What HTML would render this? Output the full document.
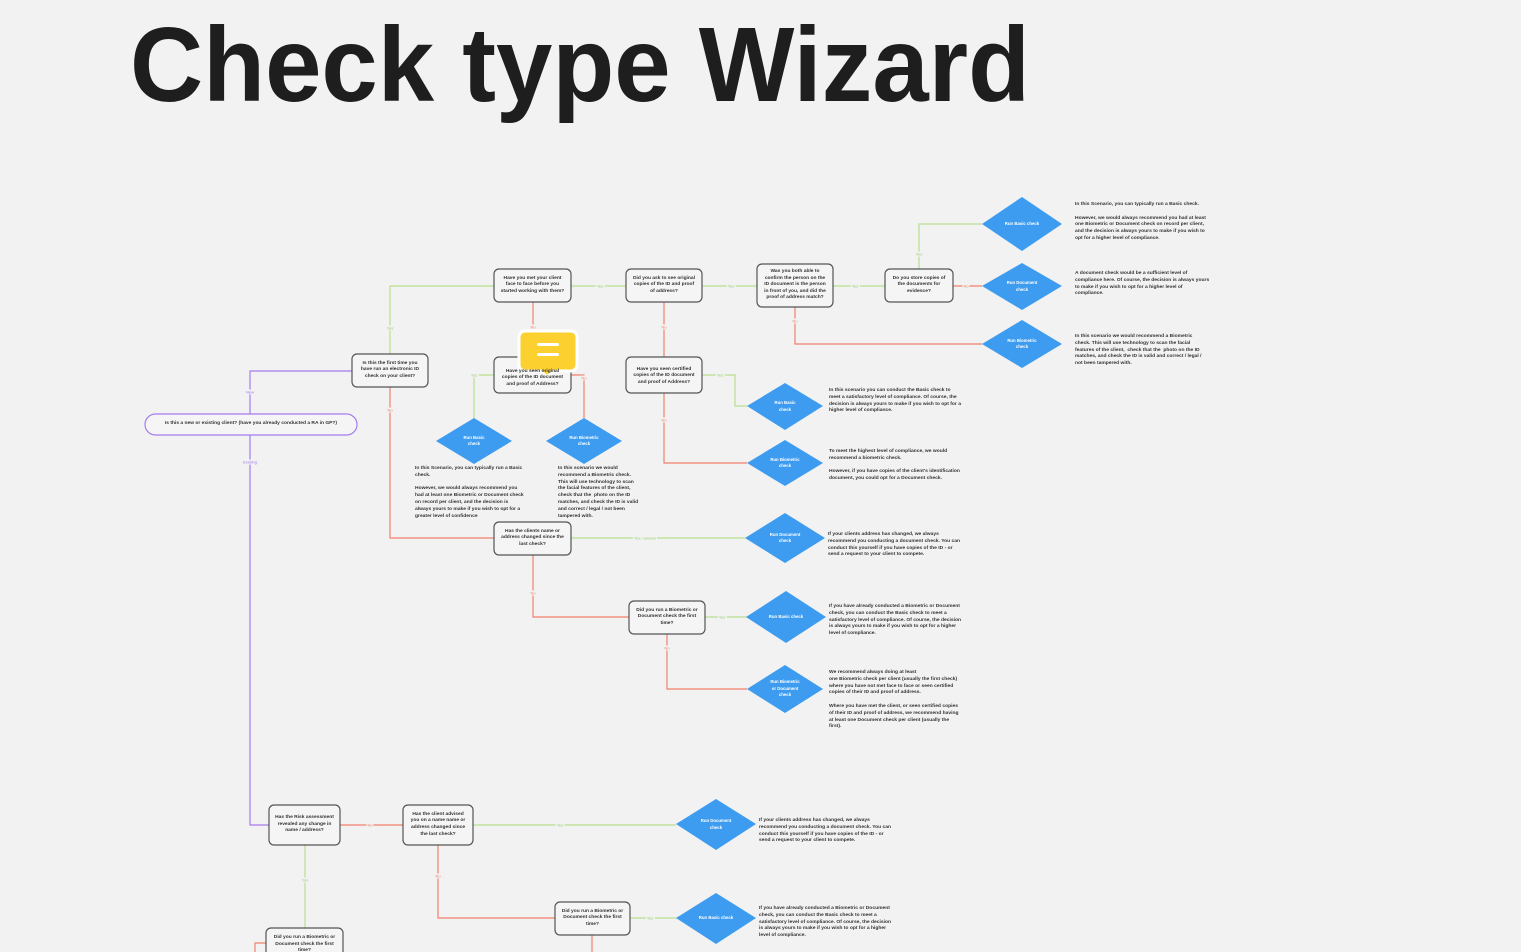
<!DOCTYPE html>
<html><head><meta charset="utf-8">
<style>
body{margin:0;background:#f2f2f2;}
#c{position:relative;width:1521px;height:952px;overflow:hidden;background:#f2f2f2;font-family:"Liberation Sans",sans-serif;}
svg{position:absolute;left:0;top:0;}
.n{position:absolute;display:flex;align-items:center;justify-content:center;text-align:center;font-size:4.9px;font-weight:bold;color:#333;line-height:6.6px;box-sizing:border-box;padding:0 5px;}
.t{position:absolute;font-size:4.95px;font-weight:bold;color:#333;line-height:6.8px;white-space:pre;}
.d{position:absolute;display:flex;align-items:center;justify-content:center;text-align:center;font-size:4.3px;font-weight:bold;color:#fff;line-height:6.5px;}
.l{position:absolute;font-size:4px;transform:translate(-50%,-50%);background:#f2f2f2;padding:0 1px;}
</style></head><body><div id="c">
<svg width="1521" height="952">
<text x="130" y="101" font-family="Liberation Sans" font-weight="bold" font-size="106" fill="#1e1e1e" textLength="900" lengthAdjust="spacingAndGlyphs">Check type Wizard</text>
<g fill="none" stroke-width="1.2">
<g stroke="#a77af0">
<polyline points="250,414 250,371 352,371"/>
<polyline points="250,435 250,825 269,825"/>
</g>
<g stroke="#b8e08f">
<polyline points="390,354 390,286 494,286"/>
<line x1="571" y1="286" x2="626" y2="286"/>
<line x1="702" y1="286" x2="757" y2="286"/>
<line x1="833" y1="286" x2="885" y2="286"/>
<polyline points="919,269 919,224 982,224"/>
<polyline points="494,375 474,375 474,418"/>
<polyline points="702,375 735,375 735,406 747,406"/>
<line x1="571" y1="538" x2="745" y2="538"/>
<line x1="705" y1="617" x2="748" y2="617"/>
<line x1="305" y1="845" x2="305" y2="928"/>
<line x1="473" y1="825" x2="676" y2="825"/>
<line x1="630" y1="918" x2="677" y2="918"/>
</g>
<g stroke="#f2806e">
<polyline points="390,387 390,538 494,538"/>
<line x1="533" y1="302" x2="533" y2="357"/>
<line x1="664" y1="302" x2="664" y2="357"/>
<polyline points="795,307 795,344 982,344"/>
<line x1="953" y1="286" x2="982" y2="286"/>
<polyline points="571,375 584,375 584,418"/>
<polyline points="664,393 664,463 747,463"/>
<polyline points="533,555 533,617 629,617"/>
<polyline points="667,634 667,689 747,689"/>
<line x1="340" y1="825" x2="403" y2="825"/>
<polyline points="438,845 438,918 555,918"/>
<line x1="592" y1="935" x2="592" y2="952"/>
<polyline points="266,943 255,943 255,952"/>
</g>
</g>
<rect x="145" y="414" width="212" height="21" rx="10.5" fill="#f5f5f5" stroke="#a77af0" stroke-width="1.2"/>
<g fill="#f5f5f5" stroke="#555" stroke-width="1.2">
<rect x="352" y="354" width="76" height="33" rx="5"/>
<rect x="494" y="269" width="77" height="33" rx="5"/>
<rect x="626" y="269" width="76" height="33" rx="5"/>
<rect x="757" y="264" width="76" height="43" rx="5"/>
<rect x="885" y="269" width="68" height="33" rx="5"/>
<rect x="494" y="357" width="77" height="36" rx="5"/>
<rect x="626" y="357" width="76" height="36" rx="5"/>
<rect x="494" y="522" width="77" height="33" rx="5"/>
<rect x="629" y="601" width="76" height="33" rx="5"/>
<rect x="269" y="805" width="71" height="40" rx="5"/>
<rect x="403" y="805" width="70" height="40" rx="5"/>
<rect x="555" y="902" width="75" height="33" rx="5"/>
<rect x="266" y="928" width="77" height="33" rx="5"/>
</g>
<g fill="#3d9cf0">
<polygon points="1022,197 1062,224 1022,251 982,224"/>
<polygon points="1022,263 1062,286 1022,310 982,286"/>
<polygon points="1022,320 1062,344 1022,368 982,344"/>
<polygon points="474,418 512,441 474,464 436,441"/>
<polygon points="584,418 622,441 584,464 546,441"/>
<polygon points="785,383 823,406 785,430 747,406"/>
<polygon points="785,440 823,463 785,486 747,463"/>
<polygon points="785,513 825,538 785,563 745,538"/>
<polygon points="786,591 826,617 786,643 746,617"/>
<polygon points="785,665 823,689 785,713 747,689"/>
<polygon points="716,799 756,824 716,850 676,824"/>
<polygon points="716,893 756,918 716,944 676,918"/>
</g>
<path d="M525,331 h46 a6,6 0 0 1 6,6 v28 a6,6 0 0 1 -6,6 h-18 l-6,6 l-6,-6 h-16 a6,6 0 0 1 -6,-6 v-28 a6,6 0 0 1 6,-6z" fill="#fcd02f" stroke="#fff" stroke-width="3"/>
<rect x="537" y="343" width="22" height="3" rx="1.5" fill="#fff"/>
<rect x="537" y="353" width="22" height="3" rx="1.5" fill="#fff"/>
</svg>

<div class="n" style="left:145px;top:414px;width:212px;height:21px;">Is this a new or existing client? (have you already conducted a RA in GP?)</div>
<div class="n" style="left:352px;top:354px;width:76px;height:33px;">Is this the first time you have run an electronic ID check on your client?</div>
<div class="n" style="left:494px;top:269px;width:77px;height:33px;">Have you met your client face to face before you started working with them?</div>
<div class="n" style="left:626px;top:269px;width:76px;height:33px;">Did you ask to see original copies of the ID and proof of address?</div>
<div class="n" style="left:757px;top:264px;width:76px;height:43px;">Was you both able to confirm the person on the ID document is the person in front of you, and did the proof of address match?</div>
<div class="n" style="left:885px;top:269px;width:68px;height:33px;">Do you store copies of the documents for evidence?</div>
<div class="n" style="left:494px;top:362px;width:77px;height:33px;">Have you seen original copies of the ID document and proof of Address?</div>
<div class="n" style="left:626px;top:360px;width:76px;height:33px;">Have you seen certified copies of the ID document and proof of Address?</div>
<div class="n" style="left:494px;top:522px;width:77px;height:33px;">Has the clients name or address changed since the last check?</div>
<div class="n" style="left:629px;top:601px;width:76px;height:33px;">Did you run a Biometric or Document check the first time?</div>
<div class="n" style="left:269px;top:805px;width:71px;height:40px;">Has the Risk assessment revealed any change in name / address?</div>
<div class="n" style="left:403px;top:805px;width:70px;height:40px;">Has the client advised you on a name name or address changed since the last check?</div>
<div class="n" style="left:555px;top:902px;width:75px;height:33px;">Did you run a Biometric or Document check the first time?</div>
<div class="n" style="left:266px;top:930px;width:77px;height:33px;align-items:flex-start;padding-top:5px;">Did you run a Biometric or Document check the first time?</div>

<div class="d" style="left:982px;top:197px;width:80px;height:54px;">Run Basic check</div>
<div class="d" style="left:982px;top:263px;width:80px;height:47px;">Run Document<br>check</div>
<div class="d" style="left:982px;top:320px;width:80px;height:48px;">Run Biometric<br>check</div>
<div class="d" style="left:436px;top:418px;width:76px;height:46px;">Run Basic<br>check</div>
<div class="d" style="left:546px;top:418px;width:76px;height:46px;">Run Biometric<br>check</div>
<div class="d" style="left:747px;top:383px;width:76px;height:47px;">Run Basic<br>check</div>
<div class="d" style="left:747px;top:440px;width:76px;height:46px;">Run Biometric<br>check</div>
<div class="d" style="left:745px;top:513px;width:80px;height:50px;">Run Document<br>check</div>
<div class="d" style="left:746px;top:591px;width:80px;height:52px;">Run Basic check</div>
<div class="d" style="left:747px;top:665px;width:76px;height:48px;">Run Biometric<br>or Document<br>check</div>
<div class="d" style="left:676px;top:799px;width:80px;height:51px;">Run Document<br>check</div>
<div class="d" style="left:676px;top:893px;width:80px;height:51px;">Run Basic check</div>

<div class="t" style="left:1075px;top:202px;">In this Scenario, you can typically run a Basic check.

However, we would always recommend you had at least
one Biometric or Document check on record per client,
and the decision is always yours to make if you wish to
opt for a higher level of compliance.</div>
<div class="t" style="left:1075px;top:271px;">A document check would be a sufficient level of
compliance here. Of course, the decision is always yours
to make if you wish to opt for a higher level of
compliance.</div>
<div class="t" style="left:1075px;top:334px;">In this scenario we would recommend a Biometric
check. This will use technology to scan the facial
features of the client,  check that the  photo on the ID
matches, and check the ID is valid and correct / legal /
not been tampered with.</div>
<div class="t" style="left:415px;top:466px;">In this Scenario, you can typically run a Basic
check.

However, we would always recommend you
had at least one Biometric or Document check
on record per client, and the decision is
always yours to make if you wish to opt for a
greater level of confidence</div>
<div class="t" style="left:558px;top:466px;">In this scenario we would
recommend a Biometric check.
This will use technology to scan
the facial features of the client,
check that the  photo on the ID
matches, and check the ID is valid
and correct / legal / not been
tampered with.</div>
<div class="t" style="left:829px;top:388px;">In this scenario you can conduct the Basic check to
meet a satisfactory level of compliance. Of course, the
decision is always yours to make if you wish to opt for a
higher level of compliance.</div>
<div class="t" style="left:829px;top:449px;">To meet the highest level of compliance, we would
recommend a biometric check.

However, if you have copies of the client's identification
document, you could opt for a Document check.</div>
<div class="t" style="left:828px;top:532px;">If your clients address has changed, we always
recommend you conducting a document check. You can
conduct this yourself if you have copies of the ID - or
send a request to your client to compete.</div>
<div class="t" style="left:829px;top:604px;">If you have already conducted a Biometric or Document
check, you can conduct the Basic check to meet a
satisfactory level of compliance. Of course, the decision
is always yours to make if you wish to opt for a higher
level of compliance.</div>
<div class="t" style="left:829px;top:670px;">We recommend always doing at least
one Biometric check per client (usually the first check)
where you have not met face to face or seen certified
copies of their ID and proof of address.

Where you have met the client, or seen certified copies
of their ID and proof of address, we recommend having
at least one Document check per client (usually the
first).</div>
<div class="t" style="left:759px;top:818px;">If your clients address has changed, we always
recommend you conducting a document check. You can
conduct this yourself if you have copies of the ID - or
send a request to your client to compete.</div>
<div class="t" style="left:759px;top:906px;">If you have already conducted a Biometric or Document
check, you can conduct the Basic check to meet a
satisfactory level of compliance. Of course, the decision
is always yours to make if you wish to opt for a higher
level of compliance.</div>

<div class="l" style="left:250px;top:392px;color:#a77af0;">New</div>
<div class="l" style="left:250px;top:462px;color:#a77af0;">Existing</div>
<div class="l" style="left:390px;top:328px;color:#9acb6d;">Yes</div>
<div class="l" style="left:390px;top:410px;color:#f2806e;">No</div>
<div class="l" style="left:600px;top:286px;color:#9acb6d;">Yes</div>
<div class="l" style="left:731px;top:286px;color:#9acb6d;">Yes</div>
<div class="l" style="left:855px;top:286px;color:#9acb6d;">Yes</div>
<div class="l" style="left:919px;top:254px;color:#9acb6d;">Yes</div>
<div class="l" style="left:966px;top:286px;color:#f2806e;">No</div>
<div class="l" style="left:533px;top:327px;color:#f2806e;">No</div>
<div class="l" style="left:664px;top:327px;color:#f2806e;">No</div>
<div class="l" style="left:795px;top:321px;color:#f2806e;">No</div>
<div class="l" style="left:474px;top:375px;color:#9acb6d;">Yes</div>
<div class="l" style="left:584px;top:378px;color:#f2806e;">No</div>
<div class="l" style="left:720px;top:375px;color:#9acb6d;">Yes</div>
<div class="l" style="left:664px;top:420px;color:#f2806e;">No</div>
<div class="l" style="left:645px;top:538px;color:#9acb6d;">Yes / unsure</div>
<div class="l" style="left:533px;top:593px;color:#f2806e;">No</div>
<div class="l" style="left:722px;top:617px;color:#9acb6d;">Yes</div>
<div class="l" style="left:667px;top:648px;color:#f2806e;">No</div>
<div class="l" style="left:370px;top:825px;color:#f2806e;">No</div>
<div class="l" style="left:305px;top:880px;color:#9acb6d;">Yes</div>
<div class="l" style="left:560px;top:825px;color:#9acb6d;">Yes</div>
<div class="l" style="left:438px;top:876px;color:#f2806e;">No</div>
<div class="l" style="left:650px;top:918px;color:#9acb6d;">Yes</div>
</div></body></html>
